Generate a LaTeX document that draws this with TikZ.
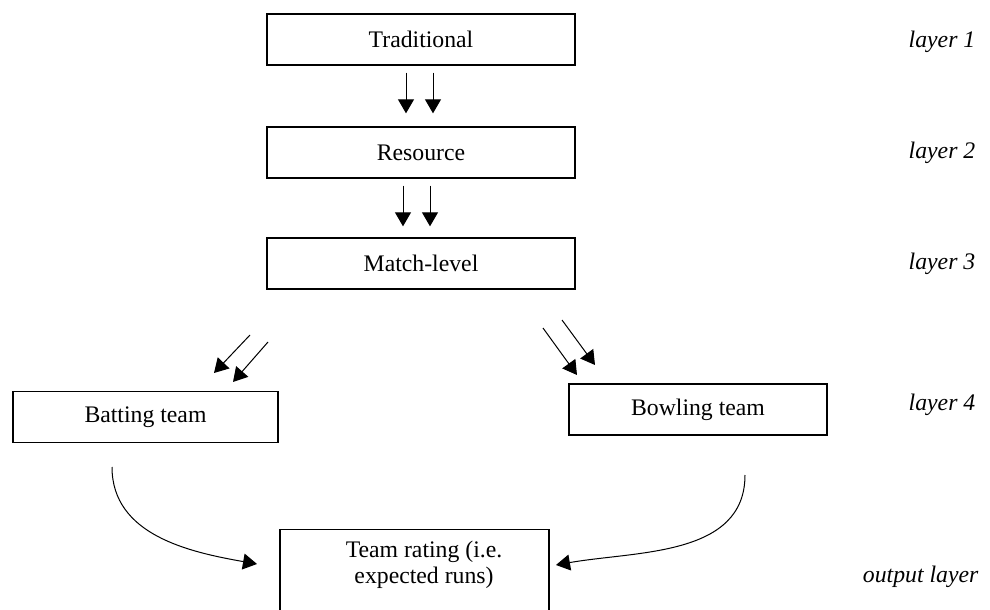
\documentclass[tikz,border=0pt]{standalone}
\usepackage{fontspec}
\setmainfont{Liberation Serif}
\usetikzlibrary{arrows.meta,calc}
\newcommand\diagfont{\fontsize{17.8}{19.5}\selectfont}

\begin{document}
\begin{tikzpicture}[x=0.75pt,y=-0.75pt,font=\diagfont,
   box/.style={draw,line width=1pt,minimum height=38.25pt,inner sep=0pt},
   arr/.style={line width=0.75pt,-{Triangle[length=10.5pt,width=12pt]}},
   lay/.style={anchor=east,font=\diagfont\itshape}]
   \clip (0,0) rectangle (990,610);
   % layers 1 to 3
   \node[box,minimum width=231pt] (trad)  at (421,39.5)  {Traditional};
   \node[box,minimum width=231pt] (res)   at (421,152.5) {Resource};
   \node[box,minimum width=231pt] (match) at (421,263.5) {Match-level};
   \foreach \dx in {-15,12}
     \draw[arr] ($(trad.south)+(\dx,7)$) -- ($(res.north)+(\dx,-13)$);
   \foreach \dx in {-18,9}
     \draw[arr] ($(res.south)+(\dx,7)$) -- ($(match.north)+(\dx,-11)$);
   % layer 4
   \node[box,minimum width=198.75pt] (bat)  at (145.5,417) {Batting team};
   \node[box,minimum width=193.5pt]  (bowl) at (698,409.5) {Bowling team};
   \coordinate (batA) at (250,335); \coordinate (batA') at (214,373);
   \coordinate (batB) at (268,342); \coordinate (batB') at (233,382);
   \coordinate (bowlA) at (543,328); \coordinate (bowlA') at (577,375);
   \coordinate (bowlB) at (562,320); \coordinate (bowlB') at (595,365);
   \draw[arr] (batA) -- (batA');
   \draw[arr] (batB) -- (batB');
   \draw[arr] (bowlA) -- (bowlA');
   \draw[arr] (bowlB) -- (bowlB');
   % output layer
   \node[box,minimum width=201.75pt,minimum height=90pt,anchor=north] (rate) at (414.5,529) {};
   \node[align=center] (ratetext) at (424,565) {Team rating (i.e.\\expected runs)};
   \coordinate (batC) at (112,467); \coordinate (rateL) at (257,564);
   \coordinate (bowlC) at (745,475); \coordinate (rateR) at (556,565);
   \draw[arr] (batC) to[out=-90,in=170] (rateL);
   \draw[arr] (bowlC) to[out=-90,in=10] (rateR);
   % layer names
   \node[lay] (l1) at (980,42)  {layer 1};
   \node[lay] (l2) at (980,153) {layer 2};
   \node[lay] (l3) at (980,264) {layer 3};
   \node[lay] (l4) at (980,405) {layer 4};
   \node[lay] (lo) at (983,577) {output layer};
\end{tikzpicture}
\end{document}
